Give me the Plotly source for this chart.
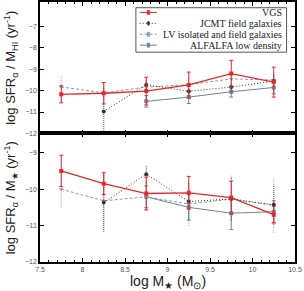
import plotly.graph_objects as go
from plotly.subplots import make_subplots

# ---------------- data ----------------
mass_all = [7.75, 8.25, 8.75, 9.25, 9.75, 10.25]
mass_jcmt = [8.25, 8.75, 9.25, 9.75, 10.25]
mass_alfalfa = [8.75, 9.25, 9.75, 10.25]

# top panel: log SFR / M_HI
vgs_hi = [-10.17, -10.12, -10.02, -9.73, -9.20, -9.60]
vgs_hi_err = [0.40, 0.50, 0.65, 0.60, 0.62, 0.70]
jcmt_hi = [-10.97, -9.72, -10.03, -9.83, -9.55]
jcmt_hi_err = [1.10, 0.30, 0.30, 0.25, 0.30]
lv_hi = [-9.83, -10.10, -9.83, -9.72, -9.45, -9.50]
lv_hi_err = [0.55, 0.40, 0.30, 0.40, 0.30, 0.35]
alf_hi = [-10.50, -10.30, -10.05, -9.85]
alf_hi_err = [0.27, 0.30, 0.25, 0.30]

# bottom panel: log SFR / M_star
vgs_st = [-9.50, -9.85, -10.12, -10.10, -10.23, -10.70]
vgs_st_err = [0.43, 0.30, 0.45, 0.45, 0.45, 0.23]
jcmt_st = [-10.37, -9.59, -10.34, -10.27, -10.43]
jcmt_st_err = [0.80, 0.25, 0.50, 0.60, 0.55]
lv_st = [-10.00, -10.32, -10.21, -10.41, -10.27, -10.45]
lv_st_err = [0.50, 0.80, 0.40, 0.60, 0.65, 0.75]
alf_st = [-10.21, -10.50, -10.66, -10.62]
alf_st_err = [0.30, 0.35, 0.45, 0.30]

x_ticks = [7.5, 8, 8.5, 9, 9.5, 10, 10.5]
x_ticklabels = ["7.5", "8", "8.5", "9", "9.5", "10", "10.5"]
labels = ["VGS", "JCMT field galaxies", "LV isolated and field galaxies", "ALFALFA low density"]

RED = "#e8262a"
BLACK = "#333333"
LVC = "#8a9bb0"
ALFC = "#6f8397"

styles = [
    dict(color=RED, dash="solid", symbol="square", ecolor=RED, dotted_err=False),
    dict(color=BLACK, dash="1px,2px", symbol="circle", ecolor="#555555", dotted_err=True),
    dict(color=LVC, dash="3px,2px", symbol="triangle-down", ecolor="#9aa8b8", dotted_err=True),
    dict(color=ALFC, dash="solid", symbol="square", ecolor=ALFC, dotted_err=False),
]

fig = make_subplots(rows=2, cols=1, shared_xaxes=True, vertical_spacing=0)

def add(xs, ys, errs, st, row, name):
    if st["dotted_err"]:
        # dotted vertical error bars built from the data (y - err .. y + err)
        ex, ey = [], []
        for x, y, e in zip(xs, ys, errs):
            ex += [x, x, None]
            ey += [y - e, y + e, None]
        fig.add_trace(go.Scatter(x=ex, y=ey, mode="lines", showlegend=False, hoverinfo="skip",
                                 line=dict(color=st["ecolor"], width=1, dash="1px,1px")),
                      row=row, col=1)
        err = None
    else:
        err = dict(type="data", array=errs, visible=True, color=st["ecolor"], thickness=1, width=2)
    fig.add_trace(go.Scatter(
        x=xs, y=ys, mode="lines+markers", name=name, showlegend=False,
        line=dict(color=st["color"], dash=st["dash"], width=1.3 if st["color"] == RED else 1),
        marker=dict(symbol=st["symbol"], size=4, color=st["color"]),
        error_y=err,
    ), row=row, col=1)

# draw order: ALFALFA, LV, JCMT, VGS on top
add(mass_alfalfa, alf_hi, alf_hi_err, styles[3], 1, labels[3])
add(mass_all, lv_hi, lv_hi_err, styles[2], 1, labels[2])
add(mass_jcmt, jcmt_hi, jcmt_hi_err, styles[1], 1, labels[1])
add(mass_all, vgs_hi, vgs_hi_err, styles[0], 1, labels[0])

add(mass_alfalfa, alf_st, alf_st_err, styles[3], 2, labels[3])
add(mass_all, lv_st, lv_st_err, styles[2], 2, labels[2])
add(mass_jcmt, jcmt_st, jcmt_st_err, styles[1], 2, labels[1])
add(mass_all, vgs_st, vgs_st_err, styles[0], 2, labels[0])

tickfont = dict(family="Liberation Sans, Arial", size=7, color="#555555")
titlefont = dict(family="Liberation Sans, Arial", size=13, color="#222222")

xcommon = dict(range=[7.5, 10.5], showline=True, linecolor="black", linewidth=1.6,
               mirror="allticks", ticks="inside", ticklen=4, tickcolor="black",
               tickvals=x_ticks, ticktext=x_ticklabels, ticklabeloverflow="allow",
               minor=dict(dtick=0.1, ticks="inside", ticklen=2, tickcolor="black"),
               showgrid=False, zeroline=False, tickfont=tickfont)
fig.update_xaxes(**xcommon)
fig.update_xaxes(showticklabels=False, row=1, col=1)

ycommon = dict(showline=True, linecolor="black", linewidth=1.6, mirror="allticks",
               ticks="inside", ticklen=4, tickcolor="black", showgrid=False,
               zeroline=False, tickfont=tickfont)
fig.update_yaxes(**ycommon)
fig.update_yaxes(range=[-12, -5.85], tickvals=[-12, -11, -10, -9, -8, -7],
                 title=dict(text="log SFR<sub>\u03b1</sub> / M<sub>HI</sub> (yr<sup>-1</sup>)",
                            font=titlefont, standoff=6),
                 row=1, col=1)
fig.update_yaxes(range=[-12, -8.47], tickvals=[-12, -11, -10, -9],
                 title=dict(text="log SFR<sub>\u03b1</sub> / M<sub>\u2605</sub> (yr<sup>-1</sup>)",
                            font=titlefont, standoff=6),
                 row=2, col=1)

fig.update_layout(
    yaxis=dict(domain=[0.4946, 1.0]),
    yaxis2=dict(domain=[0.0, 0.4946]),
)

# ---------------- custom legend (top panel) ----------------
shapes = [dict(type="rect", xref="paper", yref="paper", x0=0.376, x1=0.967, y0=0.807, y1=0.978,
               line=dict(color="#555555", width=1), fillcolor="white", layer="above")]
annotations = []
rows_y = [0.960, 0.918, 0.876, 0.834]
for i, (lab, st) in enumerate(zip(labels, styles)):
    yy = rows_y[i]
    shapes.append(dict(type="line", xref="paper", yref="paper", x0=0.391, x1=0.458, y0=yy, y1=yy,
                       line=dict(color=st["color"], width=1, dash=st["dash"]), layer="above"))
    shapes.append(dict(type="circle" if st["symbol"] == "circle" else "rect",
                       xref="paper", yref="paper", x0=0.420, x1=0.430, y0=yy - 0.008, y1=yy + 0.008,
                       line=dict(color=st["color"], width=0.5), fillcolor=st["color"], layer="above"))
    annotations.append(dict(xref="paper", yref="paper", x=0.955, y=yy, text=lab, showarrow=False,
                            xanchor="right", yanchor="middle",
                            font=dict(family="Liberation Serif, Times New Roman", size=10, color="#222222")))

# x-axis title as annotation so it sits where the reference puts it
annotations.append(dict(xref="paper", yref="paper", x=0.5, y=-0.036, yanchor="top",
                        text="log M<sub>\u2605</sub> (M<sub>\u2299</sub>)", showarrow=False,
                        font=dict(family="Liberation Sans, Arial", size=14, color="#222222")))

fig.update_layout(
    width=304, height=291,
    margin=dict(l=40, r=8.5, t=1.5, b=29.3),
    paper_bgcolor="white", plot_bgcolor="white",
    shapes=shapes, annotations=annotations,
    showlegend=False,
)

fig.write_html("out.html", config={"displayModeBar": False},
               post_script="document.body.style.margin='0';document.body.style.padding='0';")
